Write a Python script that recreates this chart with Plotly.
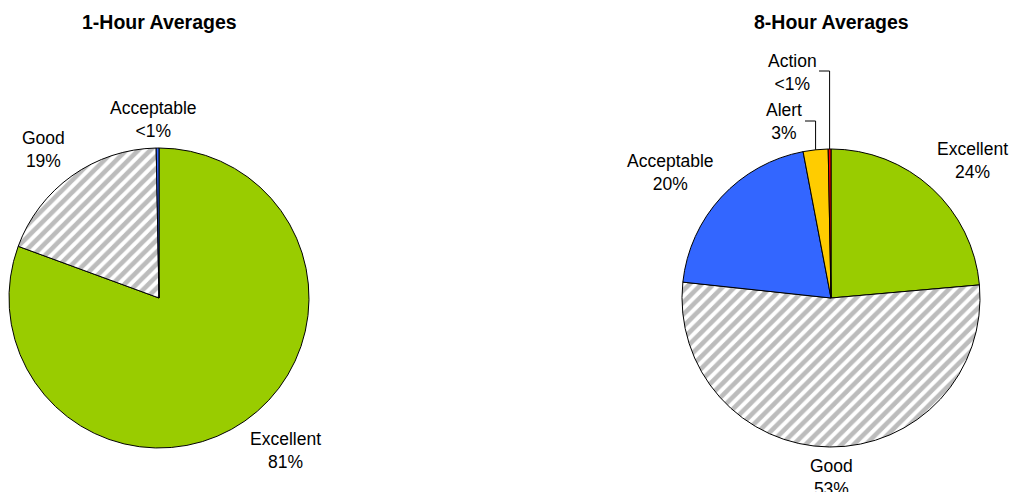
import math
import plotly.graph_objects as go

# ---- data ----
cats_1h = ["Excellent", "Good", "Acceptable"]
vals_1h = [80.6, 19.1, 0.3]
cats_8h = ["Excellent", "Good", "Acceptable", "Alert", "Action"]
vals_8h = [23.6, 53.1, 20.3, 2.7, 0.3]
titles = ["1-Hour Averages", "8-Hour Averages"]

colors = {"Excellent": "#99CC00", "Good": "#FFFFFF", "Acceptable": "#3366FF",
          "Alert": "#FFCC00", "Action": "#FF0000"}

W, H = 1010, 492
FONT = "Liberation Sans, Arial, sans-serif"


def pct_text(v):
    return "<1%" if v < 1 else f"{round(v)}%"


def px(x):
    return x / W


def py(y):
    return 1 - y / H


# pie geometry in pixels (centre x, centre y, radius)
geo = [(159, 298, 150), (831, 298, 149)]

fig = go.Figure()
for (cats, vals), (cx, cy, r) in zip([(cats_1h, vals_1h), (cats_8h, vals_8h)], geo):
    fig.add_trace(go.Pie(
        labels=cats, values=vals, sort=False, direction="clockwise", rotation=0,
        textinfo="none", hoverinfo="label+percent", showlegend=False,
        marker=dict(
            colors=[colors[c] for c in cats],
            line=dict(color="#000000", width=1),
            pattern=dict(shape=["/" if c == "Good" else "" for c in cats],
                         fgcolor="#7A7A7A", bgcolor="#FFFFFF",
                         size=8.5, solidity=0.55, fillmode="overlay"),
        ),
        domain=dict(x=[px(cx - r), px(cx + r)], y=[py(cy + r), py(cy - r)]),
    ))

# titles
for t, (cx, cy, r) in zip(titles, geo):
    fig.add_annotation(text=f"<b>{t}</b>", x=px(cx), y=py(22), xref="paper", yref="paper",
                       showarrow=False, xanchor="center", yanchor="middle",
                       font=dict(family=FONT, size=19.5, color="#000000"))

# label positions (pixel centres of the label blocks)
label_pos_1h = {"Excellent": (285, 450), "Good": (43, 149), "Acceptable": (153, 119)}
label_pos_8h = {"Excellent": (972, 160), "Good": (831, 477), "Acceptable": (670, 173),
                "Alert": (784, 122), "Action": (792, 72)}

for cats, vals, pos in [(cats_1h, vals_1h, label_pos_1h), (cats_8h, vals_8h, label_pos_8h)]:
    for c, v in zip(cats, vals):
        x, y = pos[c]
        fig.add_annotation(text=f"{c}<br>{pct_text(v)}", x=px(x), y=py(y),
                           xref="paper", yref="paper", showarrow=False,
                           xanchor="center", yanchor="middle",
                           font=dict(family=FONT, size=17.5, color="#000000"))

# leader lines for the small slices of the 8-hour pie
cx, cy, r = geo[1]
total = sum(vals_8h)
cum = 0
leader_from = {"Alert": (805, 121), "Action": (819, 71)}
for c, v in zip(cats_8h, vals_8h):
    mid = (cum + v / 2) / total * 2 * math.pi
    cum += v
    if c in leader_from:
        ex = cx + r * math.sin(mid)
        ey = cy - r * math.cos(mid)
        sx, sy = leader_from[c]
        path = f"M {px(sx)},{py(sy)} L {px(ex)},{py(sy)} L {px(ex)},{py(ey)}"
        fig.add_shape(type="path", path=path, xref="paper", yref="paper",
                      line=dict(color="#000000", width=1))

fig.update_layout(
    width=W, height=H, margin=dict(l=0, r=0, t=0, b=0),
    paper_bgcolor="#FFFFFF", plot_bgcolor="#FFFFFF",
    font=dict(family=FONT),
)

fig.write_html("out.html")
